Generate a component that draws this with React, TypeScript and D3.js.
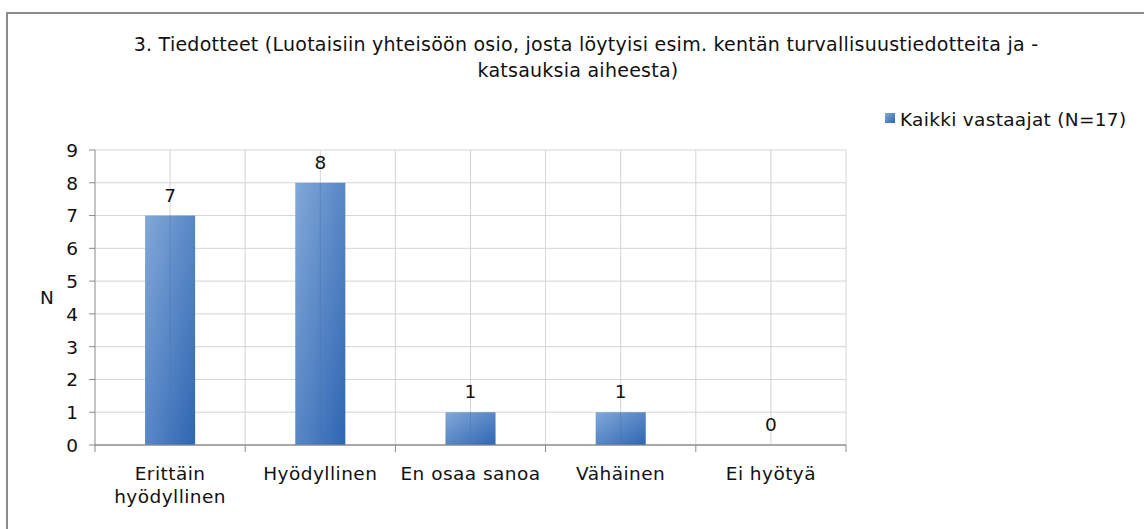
import React from "react";
import * as d3 from "d3";

const categories: string[][] = [
  ["Erittäin", "hyödyllinen"],
  ["Hyödyllinen"],
  ["En osaa sanoa"],
  ["Vähäinen"],
  ["Ei hyötyä"],
];
const values: number[] = [7, 8, 1, 1, 0];
const yTicks: number[] = [0, 1, 2, 3, 4, 5, 6, 7, 8, 9];
const titleLines: string[] = [
  "3. Tiedotteet (Luotaisiin yhteisöön osio, josta löytyisi esim. kentän turvallisuustiedotteita ja -",
  "katsauksia aiheesta)",
];
const seriesName = "Kaikki vastaajat (N=17)";
const yLabel = "N";

export default function App() {
  const W = 1144, H = 529;
  const left = 95, right = 846, top = 150, bottom = 445;
  const x = d3.scaleBand<number>().domain(d3.range(values.length)).range([left, right]).paddingInner(0).paddingOuter(0);
  const y = d3.scaleLinear().domain([0, 9]).range([bottom, top]);
  const bw = x.bandwidth();
  const barW = bw / 3;
  const font = "'DejaVu Sans', Verdana, sans-serif";
  const grid = "#d4d4d4";
  const axis = "#8a8a8a";
  const fs = 18.5;
  const ls = 0.45;
  const titleX = [586, 578];
  return (
    <svg width={W} height={H} style={{ position: "absolute", left: 0, top: 0 }} fontFamily={font}>
      <defs>
        <linearGradient id="barGrad" x1="0" y1="0" x2="1" y2="1">
          <stop offset="0" stopColor="#82a8d8" />
          <stop offset="1" stopColor="#2e66b2" />
        </linearGradient>
      </defs>
      <rect x={0} y={0} width={W} height={H} fill="#fff" />
      <line x1={6} x2={W} y1={13} y2={13} stroke="#8c8c8c" strokeWidth={2} />
      <line x1={7} x2={7} y1={12} y2={H} stroke="#8c8c8c" strokeWidth={2} />
      {titleLines.map((t, i) => (
        <text key={i} x={titleX[i]} y={51 + i * 26} textAnchor="middle" fontSize={19} letterSpacing={0.25} fill="#111">{t}</text>
      ))}
      {/* horizontal gridlines */}
      {yTicks.map((t) => (
        <line key={"h" + t} x1={left} x2={right} y1={y(t)} y2={y(t)} stroke={t === 0 ? axis : grid} strokeWidth={1} />
      ))}
      {/* vertical gridlines */}
      {values.map((_, i) => (
        <g key={"v" + i}>
          <line x1={x(i)! + bw / 2} x2={x(i)! + bw / 2} y1={top} y2={bottom} stroke={grid} />
          <line x1={x(i)! + bw} x2={x(i)! + bw} y1={top} y2={bottom} stroke={grid} />
        </g>
      ))}
      {/* bars */}
      {values.map((v, i) => (
        <rect key={"b" + i} x={x(i)! + bw / 2 - barW / 2} y={y(v)} width={barW} height={y(0) - y(v)} fill="url(#barGrad)" />
      ))}
      {values.map((v, i) => (
        <line key={"c" + i} x1={x(i)! + bw / 2} x2={x(i)! + bw / 2} y1={y(v)} y2={bottom} stroke="#4a74ad" strokeOpacity={0.45} />
      ))}
      {/* axes */}
      <line x1={left} x2={left} y1={top} y2={bottom} stroke={axis} />
      <line x1={left} x2={right} y1={bottom} y2={bottom} stroke={axis} />
      {yTicks.map((t) => (
        <g key={"yt" + t}>
          <line x1={left - 6} x2={left} y1={y(t)} y2={y(t)} stroke={axis} />
          <text x={left - 17} y={y(t)} dy="0.37em" textAnchor="end" fontSize={fs} fill="#111">{t}</text>
        </g>
      ))}
      {d3.range(values.length + 1).map((i) => (
        <line key={"xt" + i} x1={left + i * bw} x2={left + i * bw} y1={bottom} y2={bottom + 7} stroke={axis} />
      ))}
      {categories.map((lines, i) => (
        <text key={"xl" + i} x={x(i)! + bw / 2} y={480} textAnchor="middle" fontSize={fs} letterSpacing={ls} fill="#111">
          {lines.map((l, j) => (
            <tspan key={j} x={x(i)! + bw / 2} dy={j === 0 ? 0 : 23}>{l}</tspan>
          ))}
        </text>
      ))}
      {values.map((v, i) => (
        <text key={"dl" + i} x={x(i)! + bw / 2} y={y(v) - 14} textAnchor="middle" fontSize={fs} fill="#111">{v}</text>
      ))}
      <text x={47} y={y(4.5)} dy="0.37em" textAnchor="middle" fontSize={fs} fill="#111">{yLabel}</text>
      <rect x={885} y={113} width={10} height={10} fill="url(#barGrad)" />
      <text x={900} y={126} fontSize={fs} letterSpacing={0.3} fill="#111">{seriesName}</text>
    </svg>
  );
}
